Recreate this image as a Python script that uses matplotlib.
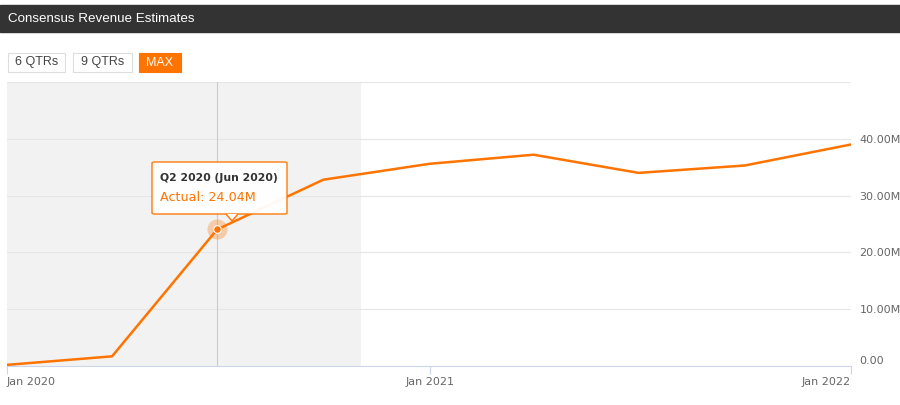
import matplotlib
matplotlib.use("Agg")
import matplotlib.pyplot as plt
import matplotlib.dates as mdates
from matplotlib.patches import Rectangle, FancyBboxPatch, Polygon
import datetime as dt

# data
dates = [dt.date(2020, 1, 1), dt.date(2020, 4, 1), dt.date(2020, 7, 1), dt.date(2020, 10, 1),
         dt.date(2021, 1, 1), dt.date(2021, 4, 1), dt.date(2021, 7, 1), dt.date(2021, 10, 1),
         dt.date(2022, 1, 1)]
revenue = [0.2, 1.7, 24.04, 32.8, 35.6, 37.2, 34.0, 35.3, 39.0]  # millions
xticks = [dt.date(2020, 1, 1), dt.date(2021, 1, 1), dt.date(2022, 1, 1)]
xtick_labels = ["Jan 2020", "Jan 2021", "Jan 2022"]
yticks = [0, 10, 20, 30, 40, 50]
ytick_labels = ["0.00", "10.00M", "20.00M", "30.00M", "40.00M", ""]
shade_end = dt.date(2020, 11, 3)
hl = 2  # highlighted point
buttons = ["6 QTRs", "9 QTRs", "MAX"]

orange = "#ff7300"
plt.rcParams['font.family'] = ['DejaVu Sans']

fig = plt.figure(figsize=(9, 4.05), dpi=100)
W, H = 900, 405

# header bar
fig.patches.append(Rectangle((0, 1 - 32 / H), 1, 27 / H, transform=fig.transFigure,
                             color="#333333", zorder=0))
fig.text(8 / W, 1 - 18.5 / H, "Consensus Revenue Estimates", color="white",
         fontsize=9.6, va="center", ha="left", family="Liberation Sans")

# buttons
bx = [(8, 57), (73, 59), (139, 42)]
for (x0, w), lab in zip(bx, buttons):
    sel = lab == "MAX"
    fig.patches.append(Rectangle((x0 / W, 1 - 72 / H), w / W, 19 / H, transform=fig.transFigure,
                                 facecolor=orange if sel else "white",
                                 edgecolor=orange if sel else "#dddddd", lw=0.8))
    fig.text((x0 + w / 2) / W, 1 - 62.5 / H, lab, color="white" if sel else "#444444",
             fontsize=9, ha="center", va="center", family="Liberation Sans")

ax = fig.add_axes([7 / W, 39 / H, 844 / W, 284 / H])
x0n, x1n = mdates.date2num(xticks[0]), mdates.date2num(xticks[-1])
ax.set_xlim(x0n, x1n)
ax.set_ylim(0, 50)

ax.axvspan(x0n, mdates.date2num(shade_end), color="#f2f2f2", zorder=0, lw=0)
for y in yticks[1:]:
    ax.axhline(y, color="#e6e6e6", lw=0.8, zorder=1)
ax.axvline(mdates.date2num(dates[hl]), color="#cccccc", lw=0.8, zorder=1)

xs = mdates.date2num(dates)
ax.plot(xs, revenue, color=orange, lw=1.8, zorder=3)
ax.scatter([xs[hl]], [revenue[hl]], s=210, color=orange, alpha=0.3, lw=0, zorder=4)
ax.scatter([xs[hl]], [revenue[hl]], s=30, color=orange, lw=0.8, edgecolor="white", zorder=5)

for s in ["top", "left", "right"]:
    ax.spines[s].set_visible(False)
ax.spines["bottom"].set_color("#ccd6eb")
ax.set_xticks(mdates.date2num(xticks))
ax.set_xticklabels(xtick_labels)
ax.tick_params(axis="x", colors="#ccd6eb", length=6, width=0.8, labelcolor="#666666",
               labelsize=8, pad=2)
for t, ha in zip(ax.get_xticklabels(), ["left", "center", "right"]):
    t.set_ha(ha)
ax.yaxis.tick_right()
ax.set_yticks(yticks)
ax.set_yticklabels(ytick_labels)
ax.tick_params(axis="y", length=0, labelcolor="#666666", labelsize=8, pad=6)
ax.get_yticklabels()[0].set_va("bottom")

# tooltip
tx, ty, tw, th = 152, 162, 135, 52
fig.patches.append(FancyBboxPatch((tx / W, 1 - (ty + th) / H), tw / W, th / H,
                                  boxstyle="round,pad=0,rounding_size=0.003",
                                  transform=fig.transFigure, facecolor="white",
                                  edgecolor=orange, lw=1, zorder=10, alpha=0.95))
px = 232
fig.patches.append(Polygon([((px - 6) / W, 1 - (ty + th) / H), (px / W, 1 - (ty + th + 7) / H),
                            ((px + 6) / W, 1 - (ty + th) / H)], closed=False,
                           transform=fig.transFigure, facecolor="white", edgecolor=orange,
                           lw=1, zorder=10))
fig.text((tx + 8) / W, 1 - 178 / H, "Q2 2020 (Jun 2020)", fontsize=7.8, fontweight="bold",
         color="#333333", va="center", zorder=11)
fig.text((tx + 8) / W, 1 - 197 / H, "Actual: %.2fM" % revenue[hl], fontsize=9.2,
         color=orange, va="center", zorder=11)

fig.savefig("out.png", dpi=100)
